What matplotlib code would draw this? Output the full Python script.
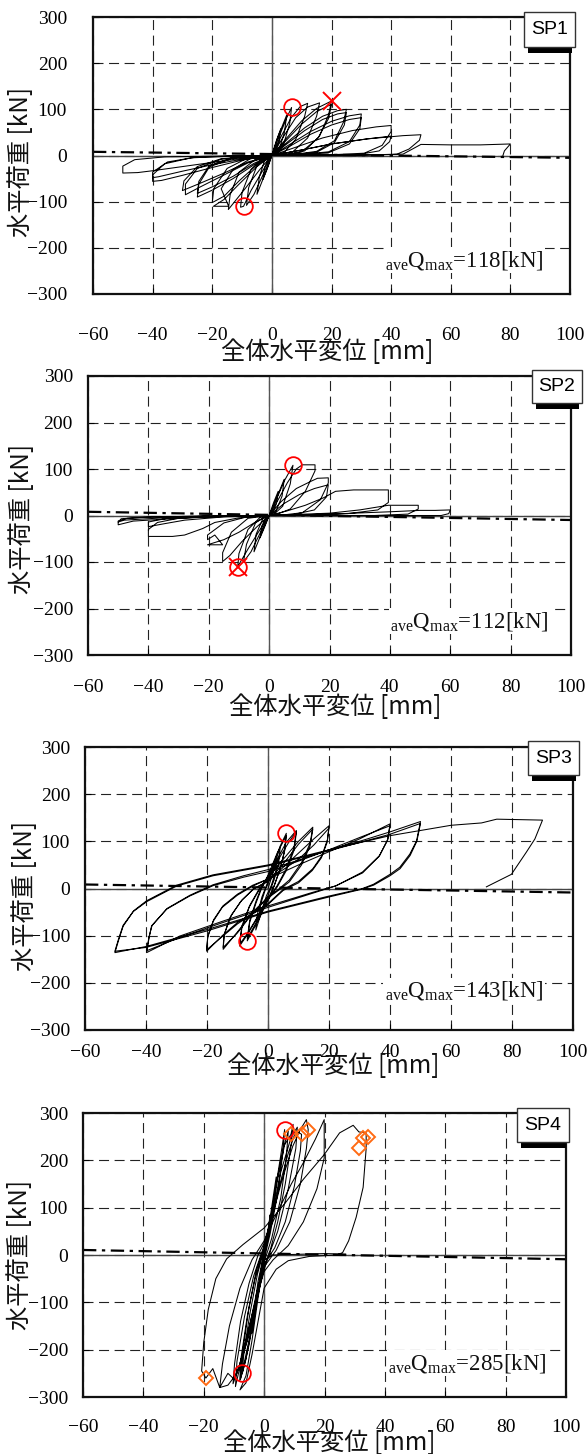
import matplotlib
matplotlib.use("Agg")
import matplotlib.pyplot as plt
from matplotlib.patches import Rectangle

W, H = 588, 1454

# ---- data ----
x_ticks = [-60, -40, -20, 0, 20, 40, 60, 80, 100]
y_ticks = [-300, -200, -100, 0, 100, 200, 300]
names = ["SP1", "SP2", "SP3", "SP4"]
qmax = [118, 112, 143, 285]

sp1_path = [
    (0, 0), (1.5, 32), (3, 58), (2.4, 30), (1, 6), (0, 0), (-1.5, -28), (-3, -52), (-2.4, -26), (-1, -5), (0, 0),
    (2, 40), (4, 72), (5, 88), (4.2, 50), (2.5, 14), (0, 0), (-2, -35), (-4, -68), (-5, -84), (-4.2, -46), (-2.5, -12), (0, 0),
    (2.5, 42), (5, 82), (6.6, 104), (6, 70), (4, 25), (1.5, 4), (0, 0), (-3, -42), (-6, -84), (-8.5, -108), (-7.8, -70), (-5, -22), (-2, -3), (0, 0),
    (3, 40), (6.5, 82), (9.5, 106), (12, 113), (11, 85), (8, 35), (4, 6), (0, 0), (-3, -32), (-7, -76), (-9.5, -110), (-10.5, -112), (-10, -80), (-7, -30), (-3, -5), (0, 0),
    (4, 42), (8, 82), (12, 105), (16, 114), (15, 85), (12, 38), (7, 8), (0, 0), (-4, -30), (-9, -72), (-13, -104), (-14.6, -117), (-14, -85), (-11, -36), (-5, -6), (0, 0),
    (5, 38), (10, 75), (15, 102), (20, 118), (19, 88), (16, 42), (11, 10), (5, 2), (0, 0), (-5, -24), (-11, -62), (-16, -95), (-19.6, -110), (-14.5, -110), (-17, -72), (-13, -30), (-7, -6), (0, 0),
    (5, 34), (10, 68), (15, 95), (19, 108), (20, 110), (19, 80), (15.5, 38), (10, 8), (4, 1), (0, 0), (-5, -20), (-11, -55), (-16, -88), (-20, -102), (-19.5, -72), (-15, -28), (-8, -5), (0, 0),
    (5, 28), (11, 60), (17, 85), (22, 97), (25, 100), (24, 72), (21, 32), (15, 9), (6, 1), (0, 0), (-6, -20), (-13, -50), (-20, -75), (-25, -90), (-24.5, -62), (-21, -25), (-13, -5), (0, 0),
    (5, 25), (11, 54), (17, 78), (22, 90), (25, 93), (24.3, 66), (21, 28), (15, 7), (6, 1), (0, 0), (-6, -17), (-13, -45), (-20, -68), (-25, -82), (-24.5, -56), (-21, -22), (-13, -4), (0, 0),
    (6, 24), (13, 52), (20, 74), (26, 86), (30, 90), (29.5, 66), (26, 30), (19, 8), (8, 1), (0, 0), (-8, -16), (-16, -42), (-24, -68), (-29, -85), (-29, -62), (-25, -28), (-17, -8), (-8, -2), (0, 0),
    (6, 20), (13, 46), (20, 66), (26, 78), (30, 82), (29.5, 58), (26, 25), (19, 6), (8, 1), (0, 0), (-8, -14), (-16, -38), (-24, -60), (-30, -76), (-29.5, -55), (-25, -24), (-17, -7), (0, 0),
    (8, 18), (17, 38), (27, 54), (35, 62), (40, 65), (40, 52), (37, 22), (31, 5), (18, 1), (0, 0), (-10, -10), (-20, -26), (-30, -43), (-37, -54), (-40, -56), (-40, -42), (-36, -18), (-27, -5), (-12, -1), (0, 0),
    (10, 12), (20, 25), (32, 36), (40, 42), (39.5, 30), (36, 10), (28, 1), (0, 0), (-10, -8), (-20, -20), (-30, -34), (-38, -46), (-40, -48), (-40, -36), (-35, -14), (-25, -3), (0, 0),
    (10, 12), (20, 25), (32, 36), (44, 43), (50, 45), (49.5, 33), (46, 14), (42, 3), (28, 0), (0, 0), (-10, -6), (-20, -15), (-30, -24), (-40, -33), (-45, -37), (-50, -38), (-50, -23), (-46, -9), (-36, -3), (-15, -1), (0, 0),
    (20, 1), (40, 2), (44, 3), (50, 24), (60, 23), (70, 23), (80, 25), (78, 10), (77.5, 0),
]

sp2_path = [
    (0, 0), (1.5, 28), (3, 52), (2.4, 25), (1, 4), (0, 0), (-1.5, -25), (-3, -48), (-2.4, -22), (-1, -4), (0, 0),
    (2, 30), (4, 62), (5, 78), (4.3, 42), (2.2, 8), (0, 0), (-2, -30), (-4, -62), (-5, -78), (-4.3, -40), (-2, -6), (0, 0),
    (2.5, 36), (5, 74), (7.9, 108), (7, 68), (4.5, 20), (1.5, 2), (0, 0), (-3, -38), (-6, -78), (-8.5, -100), (-7.5, -62), (-4.5, -16), (-1.5, -2), (0, 0),
    (3, 34), (6, 70), (9, 100), (11, 109), (15.2, 109), (15.2, 96), (12, 52), (7, 14), (2, 1), (0, 0), (-3, -30), (-7, -72), (-10.4, -110), (-10, -82), (-7, -30), (-3, -4), (0, 0),
    (4, 30), (9, 58), (14, 74), (16, 80), (19.6, 81), (19.6, 70), (17, 34), (11, 6), (3, 0), (0, 0), (-4, -24), (-9, -56), (-13, -86), (-15.4, -99), (-15.4, -80), (-12.5, -36), (-7, -6), (0, 0),
    (5, 26), (10, 45), (15, 58), (19.6, 66), (19, 40), (15, 12), (8, 2), (0, 0), (-5, -16), (-10, -36), (-15, -52), (-20.4, -63), (-15.4, -63), (-18, -42), (-20.4, -52), (-20.4, -42), (-15, -16), (-8, -4), (0, 0),
    (6, 10), (12, 22), (18, 38), (22, 52), (28, 55), (35, 55), (39.5, 55), (39.5, 28), (36, 12), (26, 4), (12, 0), (0, 0),
    (-10, -5), (-18, -15), (-22, -28), (-28, -42), (-32, -45), (-40, -45), (-40, -30), (-37, -15), (-30, -6), (-18, -2), (0, 0),
    (20, 5), (30, 12), (39.5, 22), (45, 22), (49.4, 22), (49.4, 14), (46, 3), (35, 0), (0, 0),
    (-15, -3), (-28, -10), (-35, -18), (-40, -24), (-40, -14), (-33, -5), (-20, -1), (0, 0),
    (20, 3), (40, 8), (50, 11), (55, 11), (60, 12), (59.5, 4), (57, 0), (40, 0), (0, 0),
    (-20, -3), (-35, -8), (-45, -12), (-50, -20), (-50, -12), (-47, -6), (-38, -3), (-20, -1), (-35, -5), (-48, -10), (-50, -14), (-49, -7), (-40, -3), (0, 0),
]

sp3_path = [
    (0, 0), (1.5, 30), (3, 62), (2.5, 35), (1, 5), (-0.5, -15), (-1.5, -35), (-3, -62), (-2.5, -35), (-1, -5), (0, 10),
    (2, 48), (4, 88), (3.5, 55), (2, 18), (0, -15), (-2, -48), (-4, -88), (-3.5, -55), (-2, -18), (0, 15),
    (2, 55), (4, 90), (6, 117), (5.5, 82), (4, 42), (2, 5), (0, -25), (-3, -65), (-6.8, -111), (-6, -72), (-4, -32), (-2, 2), (0, 28), (3, 75), (6, 112),
    (5.4, 78), (3.8, 38), (1.8, 2), (0, -22), (-3, -62), (-6.8, -106), (-6, -68), (-4, -28), (-2, 5), (0, 26),
    (3, 62), (6, 98), (9.3, 123), (8.5, 86), (6, 42), (3, 6), (0, -22), (-4, -68), (-7, -100), (-9.3, -122), (-8.6, -85), (-6.2, -40), (-3, -4), (0, 20), (4, 68), (7, 100), (9.3, 120),
    (8.6, 82), (6, 38), (3, 3), (0, -24), (-4, -66), (-7, -98), (-9.3, -118), (-8.6, -80), (-6, -36), (-3, -2), (0, 22),
    (5, 62), (10, 100), (14.7, 130), (13.8, 96), (11, 55), (7, 18), (3, -4), (0, -18), (-5, -50), (-10, -92), (-14.7, -129), (-14.5, -100), (-12.5, -62), (-9, -28), (-5, -2), (0, 16), (5, 52), (10, 94), (14.7, 126),
    (13.8, 90), (11, 50), (7, 14), (3, -6), (0, -20), (-5, -52), (-10, -94), (-14.7, -125), (-14.2, -95), (-12, -56), (-8.5, -24), (-4.5, 0), (0, 15),
    (5, 45), (10, 75), (15, 105), (20, 133), (19.5, 104), (17.7, 70), (14.7, 42), (10, 15), (5, -2), (0, -32), (-5, -52), (-10, -72), (-15, -100), (-20.1, -133), (-19.8, -104), (-18, -70), (-15, -40), (-10, -14), (-5, 5), (0, 20), (5, 40), (10, 62), (15, 92), (20, 128),
    (19.4, 98), (17.5, 65), (14.5, 38), (10, 12), (5, -4), (0, -34), (-5, -54), (-10, -75), (-15, -102), (-20.1, -130), (-19.7, -100), (-17.8, -66), (-14.8, -37), (-10, -12), (-5, 7), (0, 20),
    (10, 50), (20, 78), (30, 105), (40, 137),
    (39.3, 105), (36.6, 70), (31, 35), (22.4, 6), (14.7, -8), (0, -37), (-14.7, -69), (-29, -101), (-39.8, -136),
    (-39, -105), (-38.2, -80), (-33.3, -44), (-25.7, -16), (-18, 6), (-8, 24), (0, 36), (10, 58), (20, 82), (30, 108), (40, 133),
    (39.2, 102), (36.4, 68), (31, 33), (22, 5), (14.7, -10), (0, -40), (-14.7, -72), (-29, -104), (-39.8, -132),
    (-39, -102), (-38, -78), (-33, -42), (-25.5, -14), (-18, 8), (-8, 27), (0, 40),
    (10, 60), (20, 82), (30, 100), (40, 120), (50, 142),
    (48.7, 101), (46.5, 73), (43.2, 45), (40, 30), (34.6, 9), (31, 0), (20, -16), (0, -48), (-20, -87), (-40, -123), (-50.2, -136),
    (-49, -110), (-47.5, -80), (-44.2, -49), (-39.8, -28), (-30, 5), (-18, 27), (0, 48), (20, 80), (40, 115), (50, 138),
    (48.8, 100), (46.6, 70), (43.3, 42), (40, 27), (34.6, 7), (30.5, -2), (20, -18), (0, -50), (-20, -90), (-40, -125), (-50.2, -133),
    (-49, -107), (-47.5, -78), (-44, -47), (-39.8, -26), (-30, 7), (-18, 29), (0, 50), (20, 82), (40, 112), (50, 123),
    (60, 134), (70, 139), (75, 147), (90, 145), (87.5, 105), (84.7, 77), (79.8, 30), (71.6, 3.5),
]

sp4_path = [
    (0, 0), (1, 40), (2, 85), (1.5, 50), (0.4, 8), (-0.5, -20), (-1.2, -50), (-2, -85), (-1.5, -50), (-0.4, -8), (0, 0),
    (1.2, 45), (2.6, 105), (4, 165), (3.4, 120), (2, 55), (0.3, 5), (-1, -35), (-2.6, -105), (-4, -165), (-3.4, -120), (-2, -55), (-0.3, -5), (0, 0),
    (1.5, 50), (3.5, 130), (5.5, 210), (6.8, 265), (6.2, 215), (4.5, 130), (2, 45), (0, -10), (-2, -70), (-4, -150), (-6, -220), (-7.3, -250), (-6.6, -200), (-4.6, -120), (-2.2, -40), (0, 10),
    (2, 70), (4.5, 160), (7, 240), (8, 262), (7.4, 210), (5.5, 120), (2.5, 35), (0, -15), (-2.5, -95), (-5, -180), (-7, -240), (-7.8, -262), (-7, -200), (-5, -110), (-2.5, -30), (0, 15),
    (2, 70), (4, 150), (6.5, 230), (8.9, 255), (9.6, 276), (9, 235), (7, 150), (4.5, 70), (2, 10), (0, -25), (-2.5, -100), (-5, -190), (-7, -245), (-8.1, -266), (-7.6, -215), (-5.6, -130), (-3, -50), (-0.5, 5),
    (2, 60), (5, 145), (8, 215), (10.5, 262), (12.4, 255), (12, 220), (10, 145), (7, 70), (3.5, 15), (0, -20), (-2.5, -80), (-5.5, -170), (-8.5, -240), (-10.3, -272), (-9.8, -230), (-7.8, -140), (-5, -60), (-2, 0), (0, 25),
    (2.5, 80), (5.5, 175), (9, 250), (11, 270), (10.5, 225), (8, 140), (4.5, 50), (1, -10), (-2, -75), (-5, -165), (-8.5, -250), (-9.5, -278), (-9, -225), (-6.5, -130), (-3.5, -45), (0, 20),
    (3, 90), (6, 160), (9.5, 230), (12, 265), (14, 286), (14.6, 265), (14, 225), (12, 150), (8.5, 70), (4, 10), (0, -25), (-2.5, -90), (-5.5, -180), (-9, -250), (-12, -275), (-14.7, -280), (-13.8, -230), (-11.5, -150), (-8, -70), (-4, -10), (0, 30),
    (4, 85), (9, 150), (13, 195), (17, 245), (19.9, 286), (19.9, 205), (17.5, 140), (13, 70), (8, 20), (3, -10), (0, -35), (-3, -100), (-6, -180), (-8, -230), (-10, -262), (-12, -250), (-14.7, -280), (-17, -240), (-19.3, -260), (-20.7, -245), (-20, -185), (-18.5, -115), (-16, -50), (-12.4, -8), (-7, 22), (0, 57),
    (7, 110), (13, 160), (19.9, 212), (25, 258), (29.5, 274), (31.4, 260), (33.8, 258), (33.8, 225), (32.8, 143), (30.5, 80), (28, 30), (26, 5), (24, 0), (15, -3), (8, -12), (4, -30), (0, -70), (-2, -140), (-4, -210), (-6, -270), (-8, -285), (-6, -255), (-4, -180), (-2, -90), (0, -10), (3, 0), (20, 3), (27, 2),
]

# P-delta (dash-dot) line end points per specimen
pdelta_x = [-60, 100]
pdelta_q = [[8, -5], [8, -9.7], [8.5, -8.5], [10.6, -9]]

circles = [[(6.6, 106), (-9.5, -110)], [(7.9, 109), (-10.4, -110)], [(6, 117), (-6.8, -111)], [(6.8, 265), (-7.3, -250)]]
crosses = [[(20, 118)], [(-10.4, -110)], [], []]
diamonds = [[], [], [], [(8.9, 255), (12.4, 255), (14.6, 265), (31.4, 226), (32.8, 248), (34.4, 250), (-19.3, -260)]]

paths = [sp1_path, sp2_path, sp3_path, sp4_path]

# ---- layout (pixels) ----
axes_px = [(93, 17, 570, 294), (88, 376, 571, 655), (85, 747, 573, 1030), (83, 1113, 566, 1397)]
ypad = [18.7, 10.8, 10.8, 10.8]
xpad = [23.4, 17.6, 10.4, 15.5]
xlab_px = [(327, 352), (335, 707), (333, 1066), (329, 1443)]
ylab_px = [(21, 162), (22, 519), (25, 896), (20, 1255)]
text_pos = [(38, -240), (40, -240), (38.3, -229), (41, -241)]
box_px = [(524, 12, 575, 47), (532, 370, 582, 403), (528, 741, 579, 775), (517, 1108, 569, 1142)]

plt.rcParams.update({
    "font.family": "Liberation Serif",
    "mathtext.fontset": "custom",
    "mathtext.rm": "Liberation Serif",
    "mathtext.it": "Liberation Serif:italic",
    "axes.unicode_minus": True,
})
JP = ["Noto Sans CJK JP", "DejaVu Sans"]

fig = plt.figure(figsize=(W / 100, H / 100), dpi=100, facecolor="white")


def px_rect(x0, y0, x1, y1, **kw):
    return Rectangle((x0 / W, 1 - y1 / H), (x1 - x0) / W, (y1 - y0) / H,
                     transform=fig.transFigure, **kw)


for i in range(4):
    l, t, r, b = axes_px[i]
    ax = fig.add_axes([l / W, 1 - b / H, (r - l) / W, (b - t) / H])
    ax.set_xlim(-60, 100)
    ax.set_ylim(-300, 300)
    ax.set_xticks(x_ticks)
    ax.set_yticks(y_ticks)
    ax.grid(True, color="#222222", linestyle=(0, (9, 5)), linewidth=0.8)
    ax.set_axisbelow(True)
    ax.axhline(0, color="#444444", lw=1.0, zorder=1)
    ax.axvline(0, color="#555555", lw=1.0, zorder=1)
    for s in ax.spines.values():
        s.set_linewidth(1.6)
        s.set_color("#111111")
    ax.tick_params(axis="both", direction="in", length=4, width=0.8, labelsize=14)
    ax.tick_params(axis="x", pad=xpad[i])
    ax.tick_params(axis="y", pad=ypad[i])

    ax.plot(pdelta_x, pdelta_q[i], color="black", lw=1.6,
            linestyle=(0, (6, 2.5, 1.5, 2.5)), zorder=2)
    xs = [p[0] for p in paths[i]]
    qs = [p[1] for p in paths[i]]
    ax.plot(xs, qs, color="black", lw=0.75, zorder=3)

    for (cx, cy) in circles[i]:
        ax.plot(cx, cy, "o", mfc="none", mec="red", ms=12, mew=1.3, zorder=5)
    for (cx, cy) in crosses[i]:
        ax.plot(cx, cy, "x", color="red", ms=13, mew=1.4, zorder=5)
    for (cx, cy) in diamonds[i]:
        ax.plot(cx, cy, "D", mfc="none", mec="#ff6a13", ms=7.5, mew=1.4, zorder=5)

    tx, ty = text_pos[i]
    ax.text(tx, ty, r"${}_{\mathrm{ave}}\mathrm{Q}_{\mathrm{max}}$=" + f"{qmax[i]}[kN]",
            fontsize=16.5, color="#111111", ha="left", va="baseline",
            bbox=dict(facecolor="white", edgecolor="none", pad=1), zorder=4)

    fig.text(xlab_px[i][0] / W, 1 - xlab_px[i][1] / H, "全体水平変位 [mm]",
             family=JP, fontsize=17.5, ha="center", va="center", color="#111111")
    fig.text(ylab_px[i][0] / W, 1 - ylab_px[i][1] / H, "水平荷重 [kN]",
             family=JP, fontsize=17.5, ha="center", va="center", rotation=90, color="#111111")

    bx0, by0, bx1, by1 = box_px[i]
    fig.patches.append(px_rect(bx0 + 4, by1, bx1 - 3, by1 + 6, facecolor="black", edgecolor="none", zorder=10))
    fig.patches.append(px_rect(bx0, by0, bx1, by1, facecolor="white", edgecolor="#333333", lw=1.0, zorder=11))
    fig.text((bx0 + bx1) / 2 / W, 1 - (by0 + by1) / 2 / H, names[i], family="Liberation Sans",
             fontsize=14, ha="center", va="center", zorder=12)

fig.savefig("out.png", dpi=100, facecolor="white")
